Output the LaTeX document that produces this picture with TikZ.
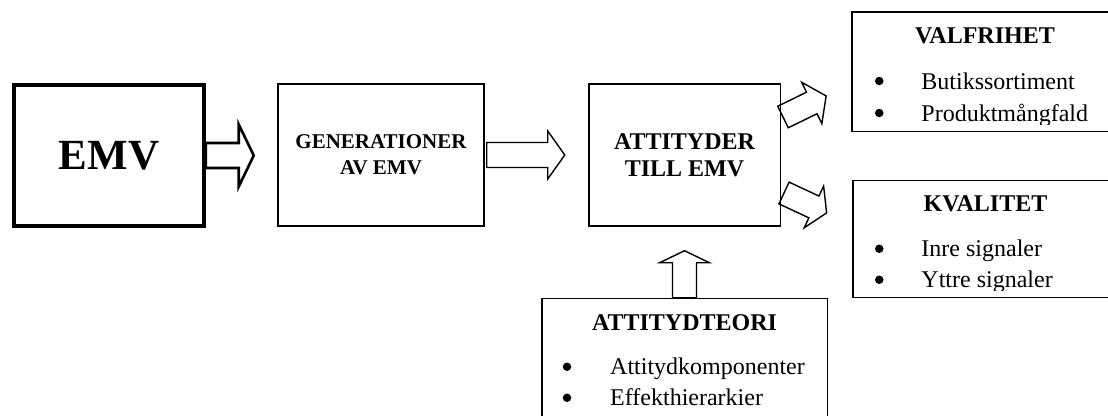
\documentclass[tikz,border=0pt]{standalone}
\usepackage{fontspec}
\setmainfont{Liberation Serif}
\usepackage{tikz}

% block arrow: length / head length / half head width / half shaft width
\tikzset{
	pics/blockarrow/.style n args={4}{code={%
		\draw[pic actions] (0,-#4) -- ({#1-#2},-#4) -- ({#1-#2},-#3) -- (#1,0)
			-- ({#1-#2},#3) -- ({#1-#2},#4) -- (0,#4) -- cycle;
	}},
}

\begin{document}
\begin{tikzpicture}[x=1pt, y=-1pt,
	box/.style={draw, rectangle, line width=1.5pt, inner sep=0pt},
	title/.style={font=\fontsize{24}{27}\selectfont\bfseries, align=center},
	head/.style={font=\fontsize{24}{28}\selectfont\bfseries, inner sep=0pt, anchor=base},
	item/.style={font=\fontsize{24}{28}\selectfont, inner sep=0pt, anchor=base west},
	dot/.style={circle, fill, inner sep=0pt, minimum size=8.5pt},
	arr/.style={line width=1.4pt, line join=miter},
	]
	\clip (0,0) rectangle (1108,415);

	% main chain
	\node[box, line width=3.5pt, minimum width=190pt, minimum height=141pt,
		font=\fontsize{43}{48}\selectfont\bfseries] (emv) at (109,155.5) {EMV};
	\node[box, title, font=\fontsize{21}{26}\selectfont\bfseries, minimum width=206pt, minimum height=142pt] (gen) at (381,155) {GENERATIONER\\AV EMV};
	\node[box, title, minimum width=191.5pt, minimum height=142pt] (att) at (684.5,155) {ATTITYDER\\TILL EMV};

	% side boxes
	\node[box, minimum width=266pt, minimum height=119.5pt] (valf) at (985,71.5) {};
	\node[box, minimum width=265pt, minimum height=117pt] (kval) at (985.5,239) {};
	\node[box, minimum width=285.5pt, minimum height=120pt] (theory) at (684.5,358.5) {};

	\begin{scope}
		\clip (valf.north west) rectangle ([yshift=8pt]valf.south east);
		\node[head] (valftitle) at ([yshift=-32pt]valf.north) {VALFRIHET};
		\node[dot] (valfdot1) at ([xshift=28pt,yshift=-70pt]valf.north west) {};
		\node[item] (valfitem1) at ([xshift=70pt,yshift=-78pt]valf.north west) {Butikssortiment};
		\node[dot] (valfdot2) at ([xshift=28pt,yshift=-102pt]valf.north west) {};
		\node[item] (valfitem2) at ([xshift=70pt,yshift=-110pt]valf.north west) {Produktmångfald};
	\end{scope}

	\begin{scope}
		\clip (kval.north west) rectangle ([yshift=8pt]kval.south east);
		\node[head] (kvaltitle) at ([yshift=-32pt]kval.north) {KVALITET};
		\node[dot] (kvaldot1) at ([xshift=27pt,yshift=-69pt]kval.north west) {};
		\node[item] (kvalitem1) at ([xshift=69pt,yshift=-77pt]kval.north west) {Inre signaler};
		\node[dot] (kvaldot2) at ([xshift=27pt,yshift=-100pt]kval.north west) {};
		\node[item] (kvalitem2) at ([xshift=69pt,yshift=-108pt]kval.north west) {Yttre signaler};
	\end{scope}

	\begin{scope}
		\clip (theory.north west) rectangle ([yshift=8pt]theory.south east);
		\node[head] (theorytitle) at ([yshift=-33pt]theory.north) {ATTITYDTEORI};
		\node[dot] (theorydot1) at ([xshift=26pt,yshift=-69pt]theory.north west) {};
		\node[item] (theoryitem1) at ([xshift=69pt,yshift=-77pt]theory.north west) {Attitydkomponenter};
		\node[dot] (theorydot2) at ([xshift=26pt,yshift=-100pt]theory.north west) {};
		\node[item] (theoryitem2) at ([xshift=69pt,yshift=-108pt]theory.north west) {Effekthierarkier};
	\end{scope}

	% arrows
	\pic[line width=2.6pt] at (emv.east) {blockarrow={48}{15}{31}{12.5}};
	\pic[arr] at ([xshift=2pt]gen.east) {blockarrow={78}{17}{24}{12.5}};
	\pic[arr, rotate=90] at (theory.north) {blockarrow={47}{12}{25}{12}};
	\pic[arr, rotate=26] at ([xshift=2pt,yshift=38pt]att.east) {blockarrow={48}{16}{23}{12}};
	\pic[arr, rotate=-25] at ([xshift=3pt,yshift=-38pt]att.east) {blockarrow={47}{14}{23}{12}};
\end{tikzpicture}
\end{document}
